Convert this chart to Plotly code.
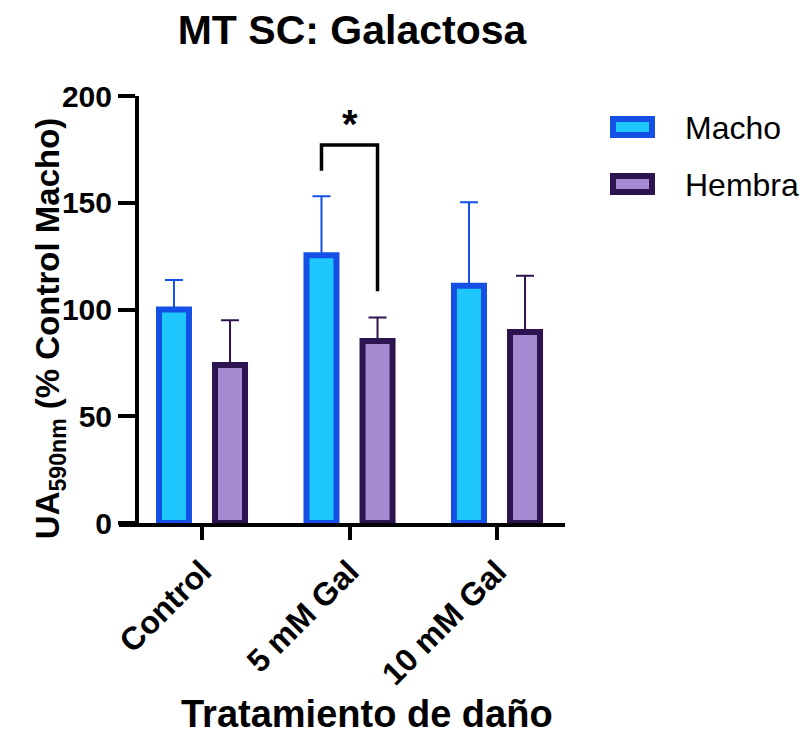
import plotly.graph_objects as go

categories = ["Control", "5 mM Gal", "10 mM Gal"]
macho_mean = [100, 125.4, 111.1]
macho_upper = [113.8, 153.1, 150.2]
hembra_mean = [74.0, 85.3, 89.5]
hembra_upper = [95.0, 96.3, 115.8]
y_ticks = [0, 50, 100, 150, 200]
sig_bracket = {"left_end": 165, "top": 177, "right_end": 108.5, "label": "*", "label_y": 187}

W, H = 803, 734
L, R = 119, 565          # plot area px
T, B = 96, 522.7

def px(xp):
    return (xp - L) / (R - L)

def py(yp):
    return (B - yp) / (B - T)

xpos = list(range(len(categories)))
grp_off = 0.19
bw = 0.2034

macho_fill, macho_line = "#1EC8FF", "#1450E6"
hem_fill, hem_line = "#A58CD2", "#2D1450"

fig = go.Figure()
fig.add_trace(go.Bar(
    x=xpos, y=macho_mean, name="Macho", width=bw, offset=-grp_off - bw / 2,
    marker=dict(color=macho_fill, line=dict(color=macho_line, width=6)),
    error_y=dict(type="data", symmetric=False,
                 array=[u - m for u, m in zip(macho_upper, macho_mean)],
                 arrayminus=[0] * 3, color=macho_line, thickness=2, width=9),
    showlegend=False))
fig.add_trace(go.Bar(
    x=xpos, y=hembra_mean, name="Hembra", width=bw, offset=grp_off - bw / 2,
    marker=dict(color=hem_fill, line=dict(color=hem_line, width=6)),
    error_y=dict(type="data", symmetric=False,
                 array=[u - m for u, m in zip(hembra_upper, hembra_mean)],
                 arrayminus=[0] * 3, color=hem_line, thickness=2, width=9),
    showlegend=False))

font = "Arial, Liberation Sans, sans-serif"
fig.update_layout(
    width=W, height=H, barmode="overlay",
    margin=dict(l=L, r=W - R, t=T, b=H - B),
    plot_bgcolor="white", paper_bgcolor="white",
    font=dict(family=font, color="black"),
    title=dict(text="<b>MT SC: Galactosa</b>", x=px(352), xref="paper", xanchor="center",
               y=1 - 30 / H, yref="container", yanchor="middle",
               font=dict(size=41, family=font, color="black")),
    xaxis=dict(range=[-(202 - L) / 147.5, 2 + (R - 497) / 147.5], tickvals=xpos,
               ticktext=[f"<b>{c}</b>" for c in categories], tickangle=-45,
               tickfont=dict(size=32, family=font, color="black"),
               showline=True, linecolor="black", linewidth=4,
               ticks="outside", ticklen=13, tickwidth=4, tickcolor="black",
               showgrid=False, zeroline=False, domain=[0, 1]),
    yaxis=dict(range=[0, 200], tickvals=y_ticks, ticktext=[f"<b>{v}</b>" for v in y_ticks],
               tickfont=dict(size=30, family=font, color="black"),
               showline=True, linecolor="black", linewidth=4,
               ticks="outside", ticklen=17, tickwidth=4, tickcolor="black",
               showgrid=False, zeroline=False, anchor="free", position=px(137)),
)

# axis titles
fig.add_annotation(text="<b>UA<sub>590nm</sub> (% Control Macho)</b>", textangle=-90,
                   x=px(50), y=py(328), xref="paper", yref="paper", showarrow=False,
                   xanchor="center", yanchor="middle", font=dict(size=33, family=font, color="black"))
fig.add_annotation(text="<b>Tratamiento de daño</b>",
                   x=px(367), y=py(714), xref="paper", yref="paper", showarrow=False,
                   xanchor="center", yanchor="middle", font=dict(size=38, family=font, color="black"))

# significance bracket
xl, xr = 1 - grp_off, 1 + grp_off
fig.add_shape(type="path",
              path=f"M {xl} {sig_bracket['left_end']} L {xl} {sig_bracket['top']} L {xr} {sig_bracket['top']} L {xr} {sig_bracket['right_end']}",
              xref="x", yref="y", line=dict(color="black", width=3.5))
fig.add_annotation(text=f"<b>{sig_bracket['label']}</b>", x=1, y=sig_bracket["label_y"], xref="x", yref="y",
                   showarrow=False, font=dict(size=40, family=font, color="black"))

# legend (manual)
legend_items = [("Macho", macho_fill, macho_line, 127), ("Hembra", hem_fill, hem_line, 184)]
for name, fc, lc, yc in legend_items:
    fig.add_shape(type="rect", xref="paper", yref="paper",
                  x0=px(613), x1=px(652), y0=py(yc - 8), y1=py(yc + 8),
                  fillcolor=fc, line=dict(color=lc, width=6))
    fig.add_annotation(text=name, x=px(683), y=py(yc + 1), xref="paper", yref="paper",
                       showarrow=False, xanchor="left", yanchor="middle",
                       font=dict(size=32, family=font, color="black"))

fig.write_html("out.html", config={"displayModeBar": False},
               post_script="document.body.style.margin='0';")
